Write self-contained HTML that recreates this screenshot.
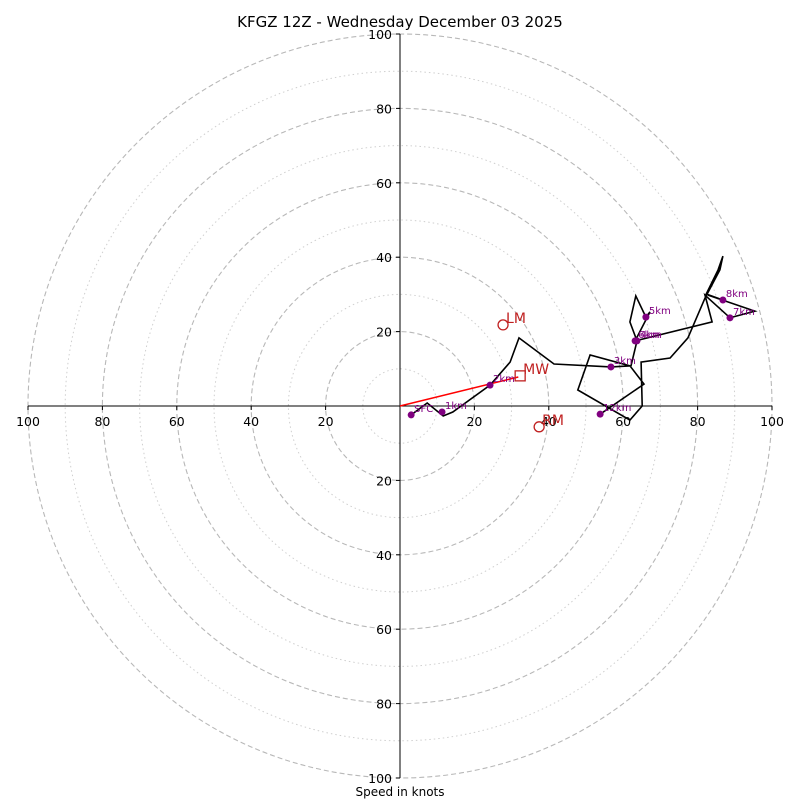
<!DOCTYPE html>
<html><head><meta charset="utf-8"><style>
body{margin:0;background:#fff}
svg text{font-family:"DejaVu Sans","Liberation Sans",sans-serif}
</style></head><body>
<svg id="c" width="800" height="800" xmlns="http://www.w3.org/2000/svg">
<text x="400" y="27" font-size="15" text-anchor="middle">KFGZ 12Z - Wednesday December 03 2025</text>
<text x="400" y="796" font-size="12" text-anchor="middle">Speed in knots</text>
</svg>
<script>
const pathU=[3.0,7.3,11.6,14.2,24.2,29.6,32.0,41.4,56.7,62.1,63.7,61.8,63.4,66.1,67.2,63.2,83.9,82.0,88.7,95.4,82.8,86.8,82.3,85.5,86.8,86.0,82.0,77.4,72.6,64.8,65.1,61.8,47.8,51.1,61.8,65.6,53.8];
const pathV=[-2.4,0.8,-2.7,-1.6,5.6,11.8,18.3,11.3,10.5,10.8,17.5,22.6,29.6,23.9,25.3,17.5,22.6,29.8,23.7,25.5,29.8,28.5,30.1,36.6,40.3,36.6,29.0,18.3,12.9,11.8,0,-3.8,4.3,13.7,10.8,5.9,-2.2];
const hLabels=["SFC","1km","2km","3km","4km","5km","6km","7km","8km","12km"];
const hU=[3.0,11.3,24.2,56.7,63.7,66.1,63.2,88.7,86.8,53.8];
const hV=[-2.4,-1.6,5.6,10.5,17.5,23.9,17.5,23.7,28.5,-2.2];
const motionLabels=["LM","MW","RM"];
const motionU=[27.7,32.3,37.4];
const motionV=[21.8,8.1,-5.6];
const ringVals=[10,20,30,40,50,60,70,80,90,100];
const tickVals=[20,40,60,80,100];

const cx=400,cy=406,k=3.72,NS="http://www.w3.org/2000/svg";
const X=u=>cx+u*k, Y=v=>cy-v*k;
const svg=document.getElementById('c');
function mk(t,a,txt){const e=document.createElementNS(NS,t);for(const n in a)e.setAttribute(n,a[n]);if(txt!==undefined)e.textContent=txt;svg.appendChild(e);return e;}
ringVals.forEach(r=>{
  const e=mk('circle',{cx:cx,cy:cy,r:r*k,fill:'none',stroke:r%20===0?'#b8b8b8':'#cfcfcf','stroke-width':r%20===0?1.1:1,'stroke-dasharray':r%20===0?'5,3':'1.5,3'});
  
  
});
let a=mk('line',{x1:X(-100),y1:cy,x2:X(100),y2:cy,stroke:'#000','stroke-width':1});


a=mk('line',{x1:cx,y1:Y(100),x2:cx,y2:Y(-100),stroke:'#000','stroke-width':1});


tickVals.forEach(t=>{
  [t,-t].forEach(s=>{
    mk('line',{x1:X(s),y1:cy,x2:X(s),y2:cy+4,stroke:'#000'});
    let e=mk('text',{x:X(s),y:cy+20,'font-size':12.5,'text-anchor':'middle'},String(t));
    
    
    mk('line',{x1:cx-4,y1:Y(s),x2:cx,y2:Y(s),stroke:'#000'});
    e=mk('text',{x:cx-8,y:Y(s)+5,'font-size':12.5,'text-anchor':'end'},String(t));
    
    
  });
});
let sh=mk('line',{x1:X(0),y1:Y(0),x2:X(motionU[1]-0.5),y2:Y(motionV[1]-0.3),stroke:'#ff0000','stroke-width':1.5});


let d=pathU.map((u,i)=>(i?'L':'M')+X(u).toFixed(1)+','+Y(pathV[i]).toFixed(1)).join(' ');
let p=mk('path',{d:d,fill:'none',stroke:'#000','stroke-width':1.6,'stroke-linejoin':'miter'});


hLabels.forEach((l,i)=>{
  let c=mk('circle',{cx:X(hU[i]),cy:Y(hV[i]),r:3.5,fill:'#800080'});
  
  
  let t=mk('text',{x:X(hU[i])+3,y:Y(hV[i])-3,'font-size':10,fill:'#800080'},l);
  
  
});
motionLabels.forEach((l,i)=>{
  const x=X(motionU[i]),y=Y(motionV[i]);
  let m;
  if(l==='MW') m=mk('rect',{x:x-5,y:y-5,width:10,height:10,fill:'none',stroke:'#c02020','stroke-width':1.3});
  else m=mk('circle',{cx:x,cy:y,r:5,fill:'none',stroke:'#c02020','stroke-width':1.3});
  
  
  let t=mk('text',{x:x+3,y:y-2,'font-size':14,fill:'#c02020'},l);
  
  
});
</script>
</body></html>
